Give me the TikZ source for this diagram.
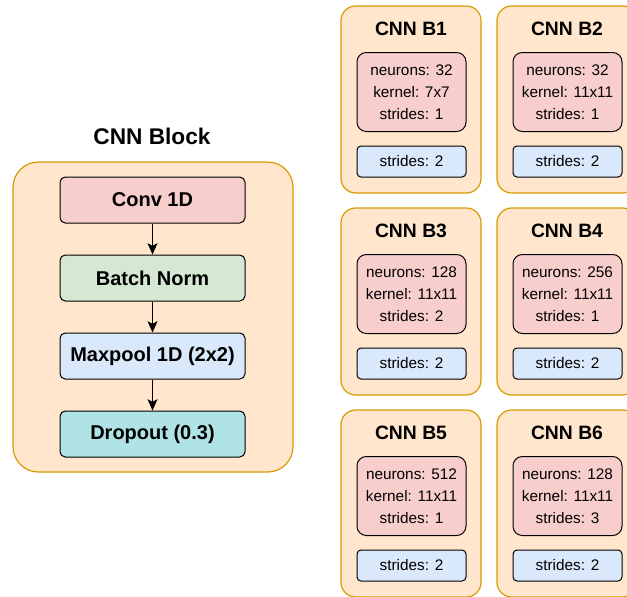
\documentclass[tikz,border=0pt]{standalone}
\usepackage{fontspec}
\setmainfont{Liberation Sans}
\usetikzlibrary{arrows.meta}

\definecolor{blockfill}{HTML}{FFE6CC}
\definecolor{blockdraw}{HTML}{D79B00}
\definecolor{convfill}{HTML}{F8CECC}
\definecolor{normfill}{HTML}{D5E8D4}
\definecolor{poolfill}{HTML}{DAE8FC}
\definecolor{dropfill}{HTML}{B0E3E6}

\begin{document}
\begin{tikzpicture}[x=0.75pt,y=-0.75pt,>={Stealth[length=8.5pt,width=7.5pt,inset=2pt]}]
    \tikzstyle{block}=[draw=blockdraw,fill=blockfill,line width=0.9pt,inner sep=0pt]
    \tikzstyle{layer}=[draw=black,line width=0.75pt,rounded corners=4pt,minimum width=138.75pt,minimum height=34.5pt,inner sep=0pt,font=\fontsize{15}{18}\selectfont\bfseries]
    \tikzstyle{params}=[draw=black,line width=0.75pt,rounded corners=7pt,fill=convfill,minimum width=81.75pt,minimum height=59.25pt,inner sep=0pt,align=center,font=\fontsize{11.5}{16.5}\selectfont]
    \tikzstyle{pool}=[draw=black,line width=0.75pt,rounded corners=3pt,fill=poolfill,minimum width=81.75pt,minimum height=23.25pt,inner sep=0pt,font=\fontsize{11.5}{14}\selectfont]
    \tikzstyle{title}=[font=\fontsize{14.5}{17}\selectfont\bfseries]

    \useasboundingbox (0,0) rectangle (627,596);
    \clip (0,0) rectangle (627,596);

    % left: generic block
    \node[title,font=\fontsize{17}{20}\selectfont\bfseries] (T-0) at (152,136) {CNN Block};
    \node[block,rounded corners=19pt,minimum width=210pt,minimum height=232.5pt] (B-0) at (153,317) {};
    \node[layer,fill=convfill] (L-1) at (152.5,200) {Conv 1D};
    \node[layer,fill=normfill] (L-2) at (152.5,278) {Batch Norm};
    \node[layer,fill=poolfill] (L-3) at (152.5,356) {Maxpool 1D (2x2)};
    \node[layer,fill=dropfill] (L-4) at (152.5,434) {Dropout (0.3)};

    \foreach \from/\to in {1/2, 2/3, 3/4}
        \draw[->,line width=0.75pt] (L-\from) -- (L-\to);

    % right: the six blocks
    \foreach \num/\cx/\ty/\neur/\ksize/\stride in {1/411/6/32/7x7/1, 2/567/6/32/11x11/1,
            3/411/208/128/11x11/2, 4/567/208/256/11x11/1,
            5/411/410/512/11x11/1, 6/567/410/128/11x11/3}
    {
        \node[block,rounded corners=11pt,minimum width=105pt,minimum height=140.25pt] (B-\num) at (\cx,\ty+93.5) {};
        \node[title] (T-\num) at (\cx,\ty+23) {CNN B\num};
        \node[params] (P-\num) at (\cx+0.5,\ty+86) {neurons: \neur\\kernel: \ksize\\strides: \stride};
        \node[pool] (S-\num) at (\cx+0.5,\ty+155.5) {strides: 2};
    }
\end{tikzpicture}
\end{document}
